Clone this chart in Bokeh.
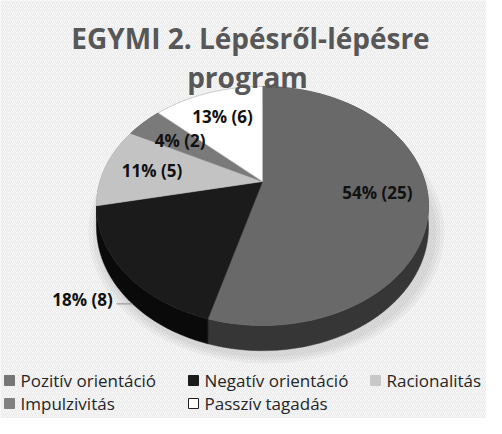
import numpy as np
from bokeh.plotting import figure
from bokeh.models import Range1d, ColumnDataSource
from bokeh.core.properties import value
from bokeh.embed import file_html
from bokeh.resources import INLINE

# ---- data ----
title_lines = ["EGYMI 2. Lépésről-lépésre", "program"]
categories = ["Pozitív orientáció", "Negatív orientáció", "Racionalitás",
              "Impulzivitás", "Passzív tagadás"]
counts = [25, 8, 5, 2, 6]
percents = [54, 18, 11, 4, 13]

# ---- style ----
top_colors = ["#696969", "#1b1b1b", "#c3c3c3", "#7a7a7a", "#ffffff"]
side_colors = ["#363636", "#0a0a0a", "#8e8e8e", "#4a4a4a", "#cfcfcf"]
legend_colors = ["#767676", "#1b1b1b", "#c8c8c8", "#808080", "#ffffff"]
label_radius = [0.7, 1.25, 0.7, 0.67, 0.7]

W, H = 486, 418
X0, Y0 = 8, 8
p = figure(width=W, height=H, x_range=Range1d(X0, X0 + W), y_range=Range1d(Y0 + H, Y0),
           output_backend="svg", toolbar_location=None, min_border=0,
           x_axis_location=None, y_axis_location=None)
p.grid.visible = False
p.outline_line_color = None
p.background_fill_color = "#f6f6f6"
p.border_fill_color = "#f6f6f6"

# subtle diagonal texture
p.quad(left=[X0], right=[X0 + W], top=[Y0], bottom=[Y0 + H], fill_color="#f7f7f7",
       hatch_pattern="/", hatch_color="#e6e6e6", hatch_scale=4, hatch_weight=0.8,
       line_color=None)

# ---- pie geometry (perspective-projected disc) ----
cx, cy = 270.0, 189.0      # apex (disc centre) on screen
R, K, e, depth = 162.5, 114.5, 0.205, 20.0


def proj(r, th):
    u = r * np.sin(th)
    v = -r * np.cos(th)
    s = 1.0 / (1.0 - e * v)
    return cx + R * u * s, cy + K * v * s, s


total = float(sum(counts))
fr = np.cumsum([0] + counts) / total
starts = fr[:-1] * 2 * np.pi
ends = fr[1:] * 2 * np.pi

# soft shadow
for i, a in enumerate([0.035, 0.035, 0.035]):
    grow = 4 + 4 * i
    p.ellipse(x=[cx + 4], y=[214 + depth + 6], width=[2 * 166 + grow * 2],
              height=[2 * 122 + grow * 1.5], fill_color="#000000", fill_alpha=a,
              line_color=None)

side_xs, side_ys, side_key = [], [], []
top_xs, top_ys = [], []
for a, b in zip(starts, ends):
    th = np.linspace(a, b, 80)
    x, y, s = proj(1.0, th)
    yb = y + depth * s
    side_xs.append(list(x) + list(x[::-1]))
    side_ys.append(list(y) + list(yb[::-1]))
    side_key.append(float(np.mean(-np.cos(th))))
    top_xs.append([cx] + list(x))
    top_ys.append([cy] + list(y))

order = np.argsort(side_key)
p.patches([side_xs[i] for i in order], [side_ys[i] for i in order],
          fill_color=[side_colors[i] for i in order],
          line_color=[side_colors[i] for i in order], line_width=0.5)
line_cols = [c if c != "#ffffff" else "#b8b8b8" for c in top_colors]
p.patches(top_xs, top_ys, fill_color=top_colors, line_color=line_cols, line_width=0.6)

# ---- data labels ----
lx, ly, lt = [], [], []
for i, (a, b) in enumerate(zip(starts, ends)):
    m = (a + b) / 2
    x, y, _ = proj(label_radius[i], m)
    lx.append(float(x))
    ly.append(float(y))
    lt.append(f"{percents[i]}% ({counts[i]})")
p.text(x=lx, y=ly, text=lt, text_align="center", text_baseline="middle",
       text_font=value("Open Sans"), text_font_style="bold", text_font_size="17px",
       text_color="#111111")
# leader line for the outside label
for i in range(len(counts)):
    if label_radius[i] > 1:
        p.line(x=[lx[i] + 34, lx[i] + 50], y=[ly[i] + 4, ly[i] + 4],
               line_color="#8a8a8a", line_width=1)

# ---- title ----
p.text(x=[258, 255], y=[45, 84], text=title_lines, text_align="center",
       text_baseline="alphabetic", text_font=value("Open Sans"),
       text_font_style="bold", text_font_size="28px", text_color="#575757")

# ---- legend ----
leg_sq_x = [17, 201, 383, 17, 201]
leg_y = [388, 388, 388, 411, 411]
src = ColumnDataSource(dict(x=leg_sq_x, y=leg_y, c=legend_colors,
                            lc=[c if c != "#ffffff" else "#222222" for c in legend_colors],
                            t=categories, tx=[x + 11 for x in leg_sq_x]))
p.scatter(x="x", y="y", marker="square", size=10, fill_color="c", line_color="lc",
          line_width=1, source=src)
p.text(x="tx", y="y", text="t", text_align="left", text_baseline="middle",
       text_font=value("Open Sans"), text_font_size="17px", text_color="#262626",
       source=src)

open("out.html", "w").write(file_html(p, INLINE))
